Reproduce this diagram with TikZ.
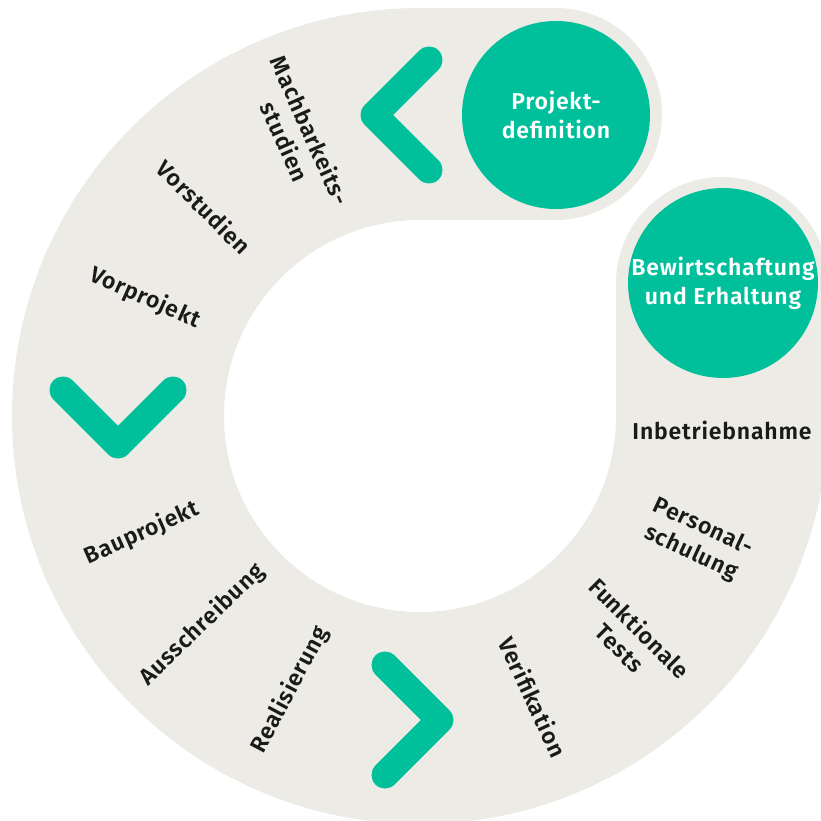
\documentclass[tikz,border=0pt]{standalone}
\usepackage{fontspec}
\setmainfont{Fira Sans}[BoldFont={* SemiBold}, BoldFeatures={LetterSpace=3.5}]
\definecolor{ringbg}{HTML}{ECEBE5}
\definecolor{brandgreen}{HTML}{00BF9B}
\definecolor{labeltext}{HTML}{1A1A1A}
\tikzset{
  ringband/.style={line width=212pt, color=ringbg, line cap=round},
  chevron/.style={line width=27pt, color=brandgreen, line cap=round, line join=round},
  bigcirc/.style={circle, fill=brandgreen, minimum size=188pt, inner sep=0pt, text=white, align=center, font=\fontsize{23}{29}\selectfont\bfseries},
  steplabel/.style={text=labeltext, align=center, inner sep=0pt, font=\fontsize{23}{28}\selectfont\bfseries}
}
\begin{document}
\begin{tikzpicture}[x=1pt,y=1pt]
\useasboundingbox (0,0) rectangle (821,-821);
% ring band
\draw[ringband] (556,-114) -- (420,-114) arc[start angle=90, end angle=360, radius=302] -- (722,-283);
% chevrons
\draw[chevron] (429,-60) -- (374,-115) -- (429,-170);
\draw[chevron] (63,-390) -- (118,-445) -- (173,-390);
\draw[chevron] (385,-665) -- (440,-720) -- (385,-775);
% circles
\node[bigcirc] (pd) at (556,-115) {Projekt-\\definition};
\node[bigcirc] (be) at (723,-283) {Bewirtschaftung\\und Erhaltung};
% labels
\node[steplabel, rotate=-66] (mb) at (298,-136) {Machbarkeits-\\studien};
\node[steplabel, rotate=-45] (vs) at (204,-207) {Vorstudien};
\node[steplabel, rotate=-24] (vp) at (145,-298) {Vorprojekt};
\node[steplabel, rotate=24] (bp) at (142,-533) {Bauprojekt};
\node[steplabel, rotate=44] (as) at (202,-625) {Ausschreibung};
\node[steplabel, rotate=62] (rs) at (290,-690) {Realisierung};
\node[steplabel, rotate=-65] (vf) at (533,-697) {Verifikation};
\node[steplabel, rotate=-45] (ft) at (630,-638) {Funktionale\\Tests};
\node[steplabel, rotate=-25] (ps) at (697,-540) {Personal-\\schulung};
\node[steplabel] (ib) at (722,-430) {Inbetriebnahme};
\end{tikzpicture}
\end{document}
